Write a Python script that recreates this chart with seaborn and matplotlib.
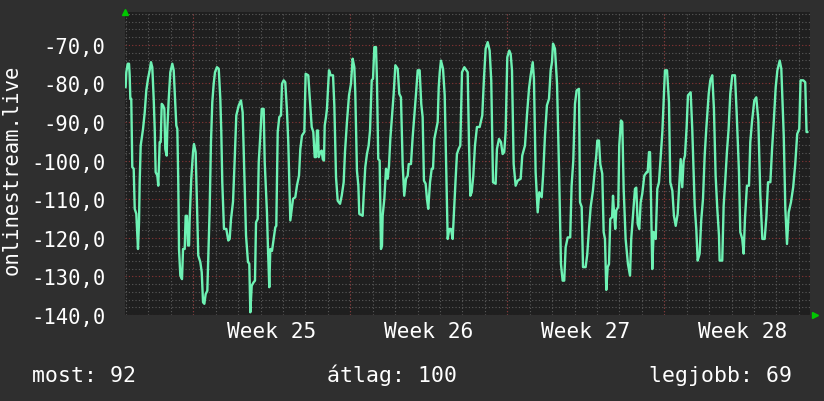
import numpy as np
import pandas as pd
import matplotlib
matplotlib.use("Agg")
import matplotlib.pyplot as plt
import seaborn as sns
from matplotlib.ticker import MultipleLocator, FixedLocator, FuncFormatter

# ---------------- data (hours since chart start, value) ----------------
hours = [0.7, 1.4, 2.9, 4.3, 5.0, 5.7, 6.7, 7.8, 9.3, 10.4, 12.1, 13.9, 15.0, 15.7, 16.8,
         19.3, 21.1, 22.8, 24.6, 26.4, 27.8, 29.2, 30.7, 31.8, 32.8, 34.6, 35.6, 37.1, 38.2,
         39.3, 40.7, 42.1, 43.1, 44.6, 45.3, 46.8, 48.5, 50.6, 52.1, 53.5, 54.9, 56.0, 57.0,
         57.8, 59.2, 61.0, 62.1, 63.9, 64.9, 66.3, 67.4, 68.5, 69.2, 70.9, 72.8, 73.8, 75.6,
         77.0, 78.4, 80.6, 82.1, 83.5, 84.9, 86.3, 88.1, 89.6, 90.6, 92.0, 93.4, 94.9, 96.3,
         98.4, 100.3, 102.0, 103.0, 104.1, 105.9, 108.4, 110.5, 112.0, 113.4, 115.6, 117.4,
         119.1, 121.7, 124.1, 125.9, 127.7, 129.5, 131.6, 133.0, 134.1, 135.6, 137.7, 139.1,
         140.2, 142.0, 143.1, 144.8, 146.3, 148.4, 149.5, 151.9, 153.0, 154.4, 155.5, 157.3,
         159.1, 160.8, 161.9, 163.4, 165.1, 166.9, 168.0, 169.8, 171.5, 173.3, 174.7, 175.8,
         176.9, 178.4, 179.8, 182.2, 184.0, 186.2, 187.6, 189.4, 191.9, 193.3, 196.1, 198.0,
         199.8, 201.5, 203.0, 204.4, 205.4, 206.5, 207.3, 209.0, 210.5, 211.6, 212.9, 213.7,
         215.1, 216.1, 218.3, 220.1, 222.6, 224.0, 225.8, 227.6, 230.1, 231.9, 234.0, 235.4,
         237.5, 239.7, 241.8, 243.6, 245.4, 246.4, 248.2, 249.7, 250.7, 254.3, 255.4, 257.1,
         258.9, 260.7, 262.2, 264.0, 265.4, 266.8, 268.6, 269.6, 271.0, 272.5, 273.9, 275.0,
         275.7, 277.5, 279.3, 281.1, 282.5, 283.9, 285.7, 287.5, 289.3, 291.8, 293.5, 295.3,
         297.1, 298.8, 300.7, 302.5, 303.6, 306.0, 307.8, 309.5, 311.4, 313.2, 315.3, 317.0,
         318.5, 319.9, 321.7, 323.1, 324.5, 326.4, 328.2, 329.6, 331.0, 333.1, 334.6, 335.7,
         336.8, 338.1, 340.3, 342.1, 344.3, 345.3, 347.0, 348.8, 350.6, 352.0, 353.8, 355.2,
         357.0, 358.8, 360.6, 363.1, 366.7, 368.1, 369.5, 371.0, 372.7, 374.5, 376.6, 379.5,
         382.3, 384.1, 385.9, 388.1, 390.2, 391.9, 393.8, 396.6, 398.0, 400.2, 402.3, 404.1,
         405.8, 407.3, 409.1, 411.2, 412.7, 414.1, 415.9, 418.0, 420.2, 423.4, 425.1, 428.0,
         430.1, 432.3, 434.1, 436.3, 437.6, 439.4, 441.6, 443.3, 445.9, 447.6, 449.4, 451.5,
         453.7, 455.5, 456.9, 458.0, 460.1, 462.3, 464.7, 466.5, 468.3, 470.0, 471.5, 473.7,
         476.4, 477.9, 479.7, 481.5, 483.3, 485.8, 486.9, 488.7, 490.1, 492.9, 494.6, 496.5,
         498.3, 500.7, 502.5, 504.3, 505.4, 507.2, 508.6, 510.7, 512.2, 513.6, 515.0, 516.5,
         517.9, 519.3, 521.2, 522.2, 523.3, 524.6, 525.7, 527.8, 528.9, 530.7, 532.1, 533.6,
         535.7, 538.2, 540.4, 541.7, 543.6, 545.7, 547.1, 548.6, 550.3, 551.8, 553.5, 555.7,
         558.2, 559.3, 560.7, 561.8, 562.8, 564.2, 565.7, 567.9, 569.6, 571.4, 573.5, 575.0,
         576.5, 577.8, 580.0, 582.1, 583.5, 585.7, 587.4, 589.3, 591.4, 592.8, 594.6, 596.3,
         597.8, 599.2, 601.0, 602.4, 605.3, 607.0, 609.6, 611.3, 612.8, 614.9, 616.6, 618.5,
         620.3, 622.0, 624.6, 626.3, 628.4, 630.2, 632.0, 633.8, 635.6, 636.3, 639.1, 640.6,
         642.3, 644.1, 645.9, 647.7, 649.8, 652.7, 654.5, 657.0, 658.4, 660.5, 662.0, 663.4,
         665.5, 667.7, 669.1, 670.9, 673.4, 675.5, 677.7, 679.8, 682.0, 684.5, 686.3, 688.1,
         690.6, 692.4, 694.2, 696.3, 698.1, 700.6, 702.3, 704.9, 706.6, 708.4, 710.2, 712.6,
         715.0, 717.2, 719.3, 721.5, 722.9, 725.8, 727.9, 729.3, 730.4]

values = [-81.0, -77.1, -74.9, -74.9, -77.9, -84.0, -84.0, -101.7, -102.1, -112.5, -113.8,
          -122.9, -116.0, -105.6, -96.1, -91.8, -87.5, -81.8, -78.8, -76.6, -74.5, -75.8,
          -84.0, -91.8, -103.0, -103.9, -106.5, -95.2, -95.2, -85.3, -85.7, -86.6, -97.0,
          -98.7, -91.8, -84.0, -77.1, -74.9, -76.6, -84.0, -90.9, -91.8, -105.6, -122.9,
          -129.8, -130.7, -122.9, -122.9, -114.3, -114.3, -122.0, -122.0, -115.1, -104.7,
          -97.8, -95.7, -97.8, -111.7, -124.6, -126.3, -128.9, -136.7, -137.1, -134.6,
          -133.7, -121.2, -112.5, -95.2, -84.9, -80.1, -77.1, -75.8, -76.2, -84.0, -92.2,
          -105.6, -117.7, -117.7, -120.7, -120.3, -115.3, -110.6, -99.6, -88.3, -85.7,
          -84.4, -87.5, -103.9, -119.4, -126.3, -126.7, -139.3, -132.4, -131.5, -131.1,
          -116.0, -115.1, -100.4, -93.5, -86.6, -86.6, -100.4, -113.4, -122.9, -132.8,
          -122.9, -123.4, -120.3, -117.3, -116.9, -92.6, -88.7, -88.3, -80.1, -79.2, -79.7,
          -87.0, -95.2, -105.2, -115.5, -112.5, -109.9, -109.5, -106.5, -103.9, -97.0,
          -93.5, -92.6, -77.5, -77.9, -84.9, -91.3, -92.6, -99.1, -99.1, -92.2, -92.2,
          -99.1, -97.8, -97.4, -99.6, -100.0, -90.9, -88.7, -86.6, -76.6, -77.9, -77.9,
          -85.7, -104.3, -110.4, -111.2, -109.1, -105.6, -97.8, -90.0, -83.1, -80.1, -73.6,
          -75.8, -82.3, -102.6, -106.5, -113.8, -114.3, -109.1, -101.7, -98.3, -96.1, -92.2,
          -79.2, -78.8, -70.6, -70.6, -79.2, -99.6, -100.0, -122.9, -122.0, -114.3, -109.9,
          -102.1, -104.7, -101.3, -94.4, -88.7, -82.7, -75.3, -76.2, -82.7, -83.6, -100.9,
          -109.1, -104.7, -103.9, -100.9, -100.9, -94.0, -88.7, -82.7, -76.6, -76.6, -85.3,
          -88.7, -105.2, -106.0, -109.9, -112.5, -105.6, -102.1, -102.1, -94.4, -91.8, -90.0,
          -81.0, -77.1, -74.1, -76.2, -83.1, -108.2, -120.3, -117.7, -117.7, -120.3, -113.4,
          -104.7, -98.3, -97.0, -96.1, -77.1, -75.8, -77.1, -95.7, -109.1, -108.2, -103.9,
          -96.1, -91.3, -91.3, -88.3, -78.8, -71.0, -69.3, -71.5, -79.2, -105.6, -106.0,
          -97.0, -94.4, -95.2, -98.3, -97.8, -92.6, -73.2, -71.5, -72.4, -76.6, -100.9,
          -106.5, -105.2, -104.7, -98.7, -96.1, -88.3, -81.4, -77.9, -74.5, -78.8, -103.0,
          -113.4, -108.2, -109.5, -103.0, -93.5, -85.7, -84.0, -76.6, -74.5, -69.7, -71.0,
          -80.1, -105.2, -126.8, -131.1, -131.1, -122.5, -119.9, -119.9, -106.5, -100.0,
          -85.3, -81.8, -81.4, -110.8, -112.0, -127.6, -127.6, -124.4, -117.7, -112.0,
          -107.8, -103.0, -98.7, -94.8, -94.8, -100.9, -103.4, -118.5, -120.3, -133.5,
          -127.6, -126.8, -115.1, -114.7, -109.1, -113.4, -117.7, -112.9, -112.0, -96.1,
          -89.6, -90.0, -107.3, -120.3, -126.8, -129.8, -120.3, -114.3, -107.3, -107.0,
          -116.4, -117.7, -110.8, -108.6, -103.9, -103.0, -103.0, -97.8, -97.8, -109.1,
          -128.1, -118.5, -120.3, -107.3, -105.6, -97.8, -92.6, -84.0, -76.6, -76.6, -84.9,
          -105.6, -107.8, -114.3, -116.9, -113.8, -107.8, -99.6, -106.9, -100.0, -98.7,
          -91.3, -83.1, -82.3, -91.8, -111.7, -117.7, -125.9, -124.1, -115.5, -109.9, -98.7,
          -91.8, -82.7, -79.2, -77.9, -86.6, -103.9, -112.5, -119.4, -125.9, -125.9, -111.7,
          -105.2, -97.8, -91.8, -82.7, -77.9, -77.9, -87.5, -103.0, -118.5, -120.3, -124.1,
          -115.1, -106.5, -106.5, -95.2, -90.0, -84.4, -83.6, -89.5, -108.6, -120.3, -120.3,
          -114.7, -105.6, -105.6, -97.0, -90.0, -81.0, -76.6, -74.1, -76.2, -93.5, -112.5,
          -121.6, -113.4, -110.8, -106.9, -100.9, -93.1, -91.8, -79.2, -79.2, -79.7, -92.6,
          -92.6]

week_labels = ["Week 25", "Week 26", "Week 27", "Week 28"]
week_start_hours = [73.1, 241.1, 409.1, 577.1]   # Monday 00:00 of each week
x_end_hours = 733.0
y_label = "onlinestream.live"
footer = ["most: 92", "átlag: 100", "legjobb: 69"]

# ---------------- styling ----------------
W, H, DPI = 824, 402, 100
FIG_BG = "#2f2f2f"
PLOT_BG = "#1f1f1f"
LINE = "#6ef2b4"
TXT = "#ffffff"

sns.set_theme(style="dark")
plt.rcParams["font.family"] = ["DejaVu Sans Mono", "DejaVu Sans"]
plt.rcParams["text.color"] = TXT

df = pd.DataFrame({"hour": hours, "value": values})

fig = plt.figure(figsize=(W / DPI, H / DPI), dpi=DPI, facecolor=FIG_BG)
L, R, T, B = 125, 810, 13, 316
ax = fig.add_axes([L / W, 1 - B / H, (R - L) / W, (B - T) / H])
ax.set_facecolor(PLOT_BG)

sns.lineplot(data=df, x="hour", y="value", ax=ax, color=LINE, linewidth=1.7, zorder=3)

ax.set_xlim(0, x_end_hours)
ax.set_ylim(-140, -61.5)

# y axis
ax.yaxis.set_major_locator(MultipleLocator(10))
ax.yaxis.set_minor_locator(MultipleLocator(2))
ax.yaxis.set_major_formatter(FuncFormatter(lambda v, p: f"{v:.1f}".replace(".", ",")))
ax.set_yticks([v for v in range(-140, -69, 10)])

# x axis: daily minor grid, week boundaries red, labels mid-week
day0 = week_start_hours[0] - 24 * int(week_start_hours[0] // 24)
days = np.arange(day0, x_end_hours, 24)
ax.xaxis.set_minor_locator(FixedLocator(days))
ax.set_xticks([w + 84 for w in week_start_hours])
ax.set_xticklabels(week_labels)

dot = (0, (1, 2))
ax.grid(which="minor", axis="both", color="#5a5a5a", linestyle=dot, linewidth=0.8)
ax.grid(which="major", axis="y", color="#8a3535", linestyle=dot, linewidth=0.8)
ax.grid(which="major", axis="x", visible=False)
for w in week_start_hours:
    ax.axvline(w, color="#8a3535", linestyle=dot, linewidth=0.8, zorder=1)
ax.set_axisbelow(True)

ax.tick_params(axis="y", which="major", length=3, color="#777777", labelsize=14.8,
               labelcolor=TXT, pad=11)
ax.tick_params(axis="y", which="minor", length=0)
ax.tick_params(axis="x", which="major", length=0, labelsize=15.2, labelcolor=TXT, pad=4.2)
ax.tick_params(axis="x", which="minor", length=2, color="#5a5a5a")
for s in ax.spines.values():
    s.set_visible(False)
ax.set_xlabel("")
ax.set_ylabel("")

# y label
fig.text(12 / W, 1 - 170 / H, y_label, rotation=90, ha="center", va="center",
         fontsize=14.8, color=TXT)

# footer
fy = 1 - 382 / H
fig.text(32 / W, fy, footer[0], ha="left", va="baseline", fontsize=15.5, color=TXT)
fig.text(392 / W, fy, footer[1], ha="center", va="baseline", fontsize=15.5, color=TXT)
fig.text(792 / W, fy, footer[2], ha="right", va="baseline", fontsize=15.5, color=TXT)

# axis arrows
ax.plot([0], [1.0], marker="^", color="#00c800", markersize=5, transform=ax.transAxes,
        clip_on=False, zorder=5)
ax.plot([1.007], [0.0], marker=">", color="#00c800", markersize=5, transform=ax.transAxes,
        clip_on=False, zorder=5)

fig.savefig("out.png", dpi=DPI, facecolor=FIG_BG)
